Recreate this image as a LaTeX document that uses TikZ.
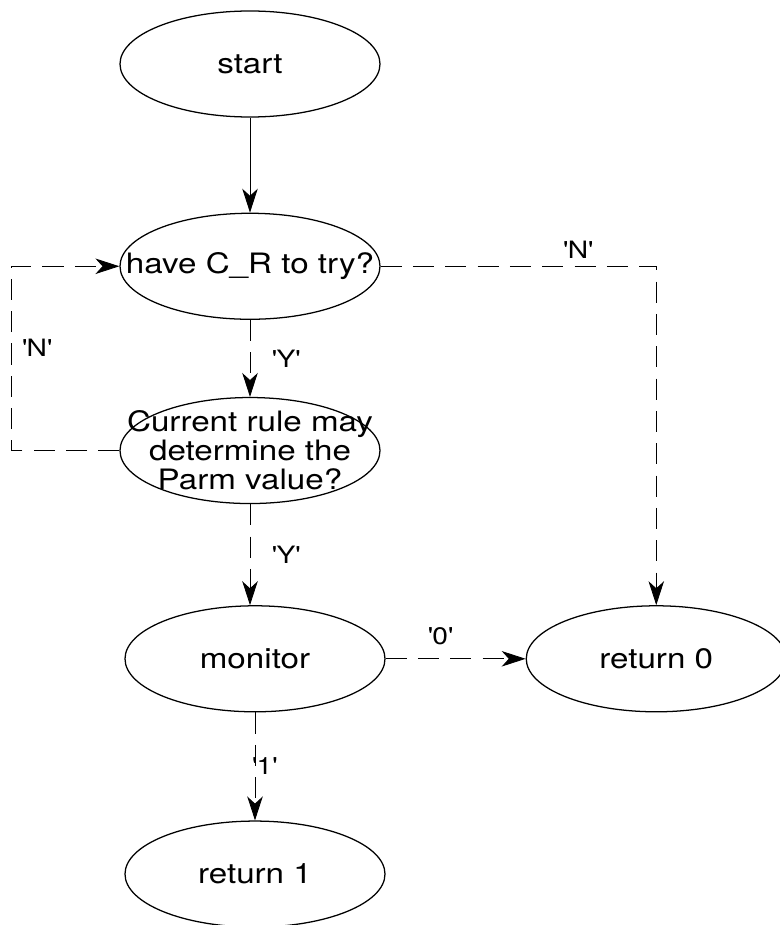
\documentclass[tikz,border=0pt]{standalone}
\usepackage{fontspec}
\setmainfont{TeX Gyre Heros}[FakeStretch=1.18]
\usetikzlibrary{shapes.geometric,positioning,arrows.meta}

\newcommand{\qt}[1]{\textquotesingle#1\textquotesingle}

\begin{document}
\begin{tikzpicture}[-{Stealth[length=17pt,width=11pt,inset=5pt]},auto,node distance=2.4cm,line width=0.6pt,
    font=\fontsize{20}{20.6}\selectfont]
  \tikzstyle{blob}=[ellipse,draw=black,line width=0.9pt,minimum width=6.5cm,minimum height=2.65cm,inner sep=-2cm,align=center]
  \tikzstyle{dashline}=[dash pattern=on 15pt off 8pt]
  \tikzstyle{lbl}=[font=\fontsize{17}{17}\selectfont]

  \useasboundingbox (-6.25,1.6) rectangle (13.225,-21.525);

  % States
  \node[blob] (start) {start};
  \node[blob] (have) [below=2.375cm of start] {have C\_R to try?};
  \node[blob] (rule) [below=1.925cm of have] {Current rule may\\determine the\\Parm value?};
  \node[blob] (mon) [below=2.525cm of rule,xshift=0.125cm] {monitor};
  \node[blob] (ret1) [below=2.7cm of mon] {return 1};
  \node[blob] (ret0) [right=3.5cm of mon] {return 0};

  % Transitions
  \path
    (start) edge (have)
    (have) edge[dashline] node[lbl,right=12pt] {\qt{Y}} (rule)
    (rule.south) edge[dashline] node[lbl,right=12pt] {\qt{Y}} (mon.north -| rule.south)
    (mon) edge[dashline] node[lbl,pos=0.39,above=6pt] {\qt{0}} (ret0)
    (mon) edge[dashline] node[lbl,right=-2mm] {\qt{1}} (ret1);

  \draw[dashline] (rule.west) -- ++(-2.7,0) |- node[lbl,pos=0.28,right=4pt] {\qt{N}} (have.west);
  \draw[dashline] (have.east) -| node[lbl,pos=0.358,above=2pt] {\qt{N}} (ret0.north);
\end{tikzpicture}
\end{document}
